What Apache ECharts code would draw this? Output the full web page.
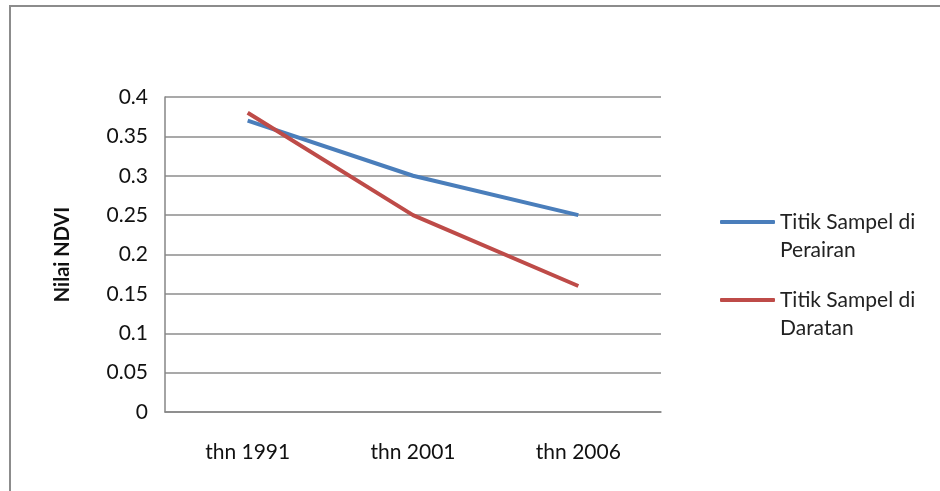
<!DOCTYPE html>
<html>
<head>
<meta charset="utf-8">
<script src="https://cdn.jsdelivr.net/npm/echarts@6/dist/echarts.min.js"></script>
<style>
  html, body { margin: 0; padding: 0; background: #fff; }
  #chart { width: 940px; height: 491px; }
</style>
</head>
<body>
<div id="chart"></div>
<script>
// data
const years = ['thn 1991', 'thn 2001', 'thn 2006'];
const perairan = [0.37, 0.30, 0.25];
const daratan = [0.38, 0.25, 0.16];
const seriesNames = ['Titik Sampel di Perairan', 'Titik Sampel di Daratan'];
// leading blank line keeps the first text line level with the legend stroke
const legendLabels = ['\nTitik Sampel di\nPerairan', '\nTitik Sampel di\nDaratan'];

const FONT = 'Lato';
const chart = echarts.init(document.getElementById('chart'));

function legendFor(i, top) {
  return {
    orient: 'vertical',
    left: 715,
    top: top,
    itemWidth: 55,
    itemHeight: 4,
    icon: 'roundRect',
    formatter: n => legendLabels[seriesNames.indexOf(n)],
    textStyle: { fontFamily: FONT, fontSize: 21, color: '#222', lineHeight: 28 },
    data: [seriesNames[i]]
  };
}

const option = {
  animation: false,
  backgroundColor: '#fff',
  textStyle: { fontFamily: FONT },
  graphic: [{
    type: 'rect',
    shape: { x: 10, y: 6, width: 960, height: 520 },
    style: { fill: 'none', stroke: '#8c8c8c', lineWidth: 2 }
  }],
  grid: { left: 165, top: 97, right: 279, bottom: 79 },
  legend: [legendFor(0, 175), legendFor(1, 253)],
  xAxis: {
    type: 'category',
    data: years,
    boundaryGap: true,
    axisTick: { show: false },
    axisLine: { lineStyle: { color: '#868686', width: 1.5 } },
    axisLabel: { margin: 30, fontSize: 21, color: '#111', fontFamily: FONT }
  },
  yAxis: {
    type: 'value',
    min: 0,
    max: 0.4,
    interval: 0.05,
    name: 'Nilai NDVI',
    nameLocation: 'middle',
    nameGap: 92,
    nameTextStyle: { fontSize: 20, fontWeight: 'bold', color: '#111', fontFamily: FONT },
    axisLine: { show: true, lineStyle: { color: '#868686', width: 1.5 } },
    axisTick: { show: false },
    splitLine: { lineStyle: { color: '#8c8c8c', width: 1.5 } },
    axisLabel: { margin: 17, fontSize: 21, color: '#111', fontFamily: FONT }
  },
  series: [
    {
      name: seriesNames[0],
      type: 'line',
      data: perairan,
      symbol: 'none',
      lineStyle: { color: '#4a7ebb', width: 4 },
      itemStyle: { color: '#4a7ebb' }
    },
    {
      name: seriesNames[1],
      type: 'line',
      data: daratan,
      symbol: 'none',
      lineStyle: { color: '#be4b48', width: 4 },
      itemStyle: { color: '#be4b48' }
    }
  ]
};

chart.setOption(option);
</script>
</body>
</html>
